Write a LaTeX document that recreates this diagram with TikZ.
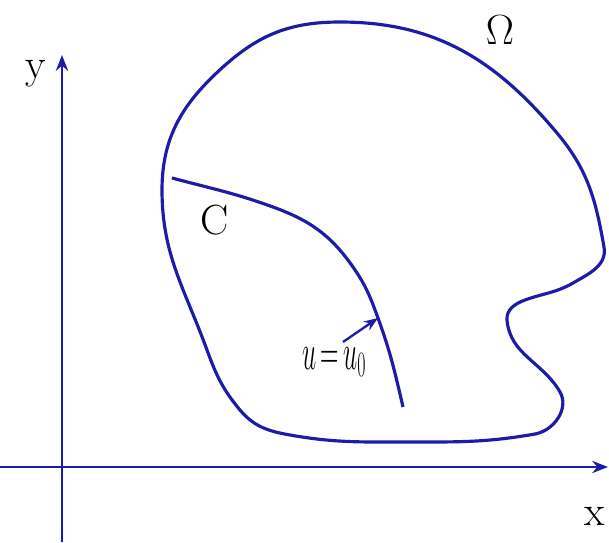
\RequirePackage{fix-cm}
\documentclass[tikz,border=0pt]{standalone}
\usetikzlibrary{arrows.meta}
\definecolor{lineblue}{RGB}{28,28,168}
\begin{document}
\begin{tikzpicture}[x=0.02cm, y=0.02cm,
  curve/.style={draw=lineblue, line width=1.8pt},
  axis/.style={draw=lineblue, line width=1.3pt, -{Stealth[length=9pt, width=7pt]}},
  lbl/.style={font=\fontsize{24}{28}\selectfont}]
\useasboundingbox (0,0) rectangle (609,542);
% axes
\coordinate (xs) at (0,75);
\coordinate (xe) at (608,75);
\coordinate (ys) at (62,0);
\coordinate (ye) at (62,487);
\draw[axis] (xs) -- (xe);
\draw[axis] (ys) -- (ye);
\node[lbl] (xl) at (595,26) {x};
\node[lbl] (yl) at (36,468) {y};
% region
\draw[curve] (162,352) to[out=90,in=222] (223,475) to[out=42,in=180] (340,520)
  to[out=0,in=130] (557,409) to[out=-50,in=100] (604,295)
  to[out=-80,in=30] (573,259) to[out=210,in=20] (525,242) to[out=200,in=95] (507,222)
  to[out=-85,in=120] (560,150) to[out=-60,in=10] (535,108) to[out=190,in=0] (407,100)
  to[out=180,in=-10] (290,107) to[out=170,in=-50] (240,132) to[out=130,in=-70] (207,192)
  to[out=110,in=-90] cycle;
\node[lbl] (om) at (500,512) {$\Omega$};
% curve C
\coordinate (tip) at (378,224);
\draw[curve] (172,364) to[out=-15,in=160] (273,335) to[out=-20,in=125] (353,275)
  to[out=-55,in=110] (tip) to[out=-70,in=103] (403,135);
\node[lbl] (cl) at (215,322) {C};
% data on C
\node[font=\fontsize{29}{33}\selectfont, xscale=0.5] (lab) at (334,180) {$u\,{=}\,u_0$};
\coordinate (tail) at (343,200);
\draw[draw=lineblue, line width=1.3pt, -{Stealth[length=8pt, width=6pt]}] (tail) -- (tip);
\end{tikzpicture}
\end{document}
